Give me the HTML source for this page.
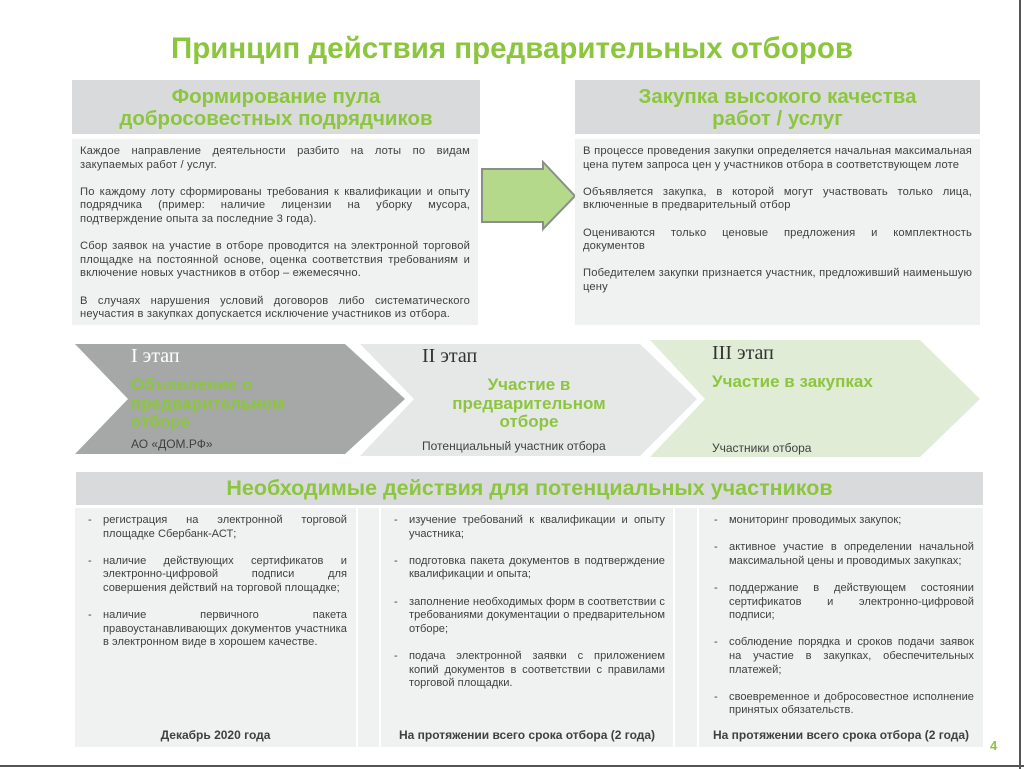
<!DOCTYPE html>
<html><head><meta charset="utf-8"><style>
*{margin:0;padding:0;box-sizing:border-box}
body{width:1024px;height:769px;position:relative;background:#fff;font-family:"Liberation Sans","DejaVu Sans",sans-serif;overflow:hidden;color:#404040}
.abs{position:absolute}
.g{color:#8cc63f;font-weight:bold}
.hdr{background:#d9dadb;text-align:center;font-size:20.5px;line-height:22px;padding-top:6px}
.txt{background:#f0f1f1;font-size:11.2px;letter-spacing:0.15px;line-height:13.6px;text-align:justify;padding:6px 8px}
.txt p{margin-bottom:13.6px}
.col{background:#f0f1f1;font-size:11.1px;letter-spacing:0.02px;line-height:13.6px}
.col ul{list-style:none;position:absolute;top:6px}
.col li{position:relative;text-align:justify;margin-bottom:13.6px}
.col li:before{content:"-";position:absolute;left:-15px}
.foot{position:absolute;bottom:4px;left:0;right:0;text-align:center;font-weight:bold;font-size:12px;letter-spacing:0}
</style></head><body>
<div class="abs" style="right:3px;top:0;width:2px;height:769px;background:#555"></div>
<div class="abs" style="left:0;bottom:2px;width:1024px;height:2px;background:#555"></div>

<div class="abs g" style="left:0;width:1024px;top:32px;text-align:center;font-size:29.5px">Принцип действия предварительных отборов</div>

<div class="abs hdr g" style="left:72px;top:80px;width:408px;height:54px">Формирование пула<br>добросовестных подрядчиков</div>
<div class="abs txt" style="left:72px;top:139px;width:406px;height:186px">
<p>Каждое направление деятельности разбито на лоты по видам закупаемых работ / услуг.</p>
<p>По каждому лоту сформированы требования к квалификации и опыту подрядчика (пример: наличие лицензии на уборку мусора, подтверждение опыта за последние 3 года).</p>
<p>Сбор заявок на участие в отборе проводится на электронной торговой площадке на постоянной основе, оценка соответствия требованиям и включение новых участников в отбор – ежемесячно.</p>
<p>В случаях нарушения условий договоров либо систематического неучастия в закупках допускается исключение участников из отбора.</p>
</div>

<svg class="abs" style="left:480px;top:160px" width="100" height="72"><polygon points="2,9 63,9 63,2 95,36 63,69 63,62 2,62" fill="#b5d98a" stroke="#8a8f8c" stroke-width="2"/></svg>

<div class="abs hdr g" style="left:575px;top:80px;width:405px;height:54px">Закупка высокого качества<br>работ / услуг</div>
<div class="abs txt" style="left:575px;top:139px;width:405px;height:186px">
<p>В процессе проведения закупки определяется начальная максимальная цена путем запроса цен у участников отбора в соответствующем лоте</p>
<p>Объявляется закупка, в которой могут участвовать только лица, включенные в предварительный отбор</p>
<p>Оцениваются только ценовые предложения и комплектность документов</p>
<p>Победителем закупки признается участник, предложивший наименьшую цену</p>
</div>

<svg class="abs" style="left:0;top:330px" width="1024" height="140">
<polygon points="75,14 345,14 405,69 345,124 75,124 128,69" fill="#a5a8a7"/>
<polygon points="360,14 640,14 697,69 640,126 360,126 414,69" fill="#e6e7e7"/>
<polygon points="650,10 920,10 980,69 920,127 650,127 705,69" fill="#e0ecd6"/>
</svg>
<div class="abs" style="left:131px;top:345px;font-family:'Liberation Serif',serif;font-size:20px;color:#fff">I этап</div>
<div class="abs g" style="left:131px;top:376px;font-size:17px;line-height:18.5px">Объявление о<br>предварительном<br>отборе</div>
<div class="abs" style="left:131px;top:437px;font-size:12px">АО «ДОМ.РФ»</div>
<div class="abs" style="left:422px;top:345px;font-family:'Liberation Serif',serif;font-size:20px;color:#333">II этап</div>
<div class="abs g" style="left:415px;top:376px;width:228px;text-align:center;font-size:17px;line-height:18.5px">Участие в<br>предварительном<br>отборе</div>
<div class="abs" style="left:422px;top:439px;font-size:12px">Потенциальный участник отбора</div>
<div class="abs" style="left:712px;top:342px;font-family:'Liberation Serif',serif;font-size:20px;color:#333">III этап</div>
<div class="abs g" style="left:712px;top:372px;font-size:17px">Участие в закупках</div>
<div class="abs" style="left:712px;top:441px;font-size:12px">Участники отбора</div>

<div class="abs hdr g" style="left:76px;top:472px;width:907px;height:33px;padding-top:5px;font-size:21.5px">Необходимые действия для потенциальных участников</div>

<div class="abs col" style="left:75px;top:508px;width:281px;height:239px">
<ul style="left:28px;width:244px">
<li>регистрация на электронной торговой площадке Сбербанк-АСТ;</li>
<li>наличие действующих сертификатов и электронно-цифровой подписи для совершения действий на торговой площадке;</li>
<li>наличие первичного пакета правоустанавливающих документов участника в электронном виде в хорошем качестве.</li>
</ul><div class="foot">Декабрь 2020 года</div></div>
<div class="abs col" style="left:358px;top:508px;width:21px;height:239px"></div>
<div class="abs col" style="left:381px;top:508px;width:292px;height:239px">
<ul style="left:28px;width:256px">
<li>изучение требований к квалификации и опыту участника;</li>
<li>подготовка пакета документов в подтверждение квалификации и опыта;</li>
<li>заполнение необходимых форм в соответствии с требованиями документации о предварительном отборе;</li>
<li>подача электронной заявки с приложением копий документов в соответствии с правилами торговой площадки.</li>
</ul><div class="foot">На протяжении всего срока отбора (2 года)</div></div>
<div class="abs col" style="left:675px;top:508px;width:22px;height:239px"></div>
<div class="abs col" style="left:699px;top:508px;width:284px;height:239px">
<ul style="left:30px;width:245px">
<li>мониторинг проводимых закупок;</li>
<li>активное участие в определении начальной максимальной цены и проводимых закупках;</li>
<li>поддержание в действующем состоянии сертификатов и электронно-цифровой подписи;</li>
<li>соблюдение порядка и сроков подачи заявок на участие в закупках, обеспечительных платежей;</li>
<li>своевременное и добросовестное исполнение принятых обязательств.</li>
</ul><div class="foot">На протяжении всего срока отбора (2 года)</div></div>

<div class="abs g" style="left:990px;top:738px;font-size:13px">4</div>
</body></html>
